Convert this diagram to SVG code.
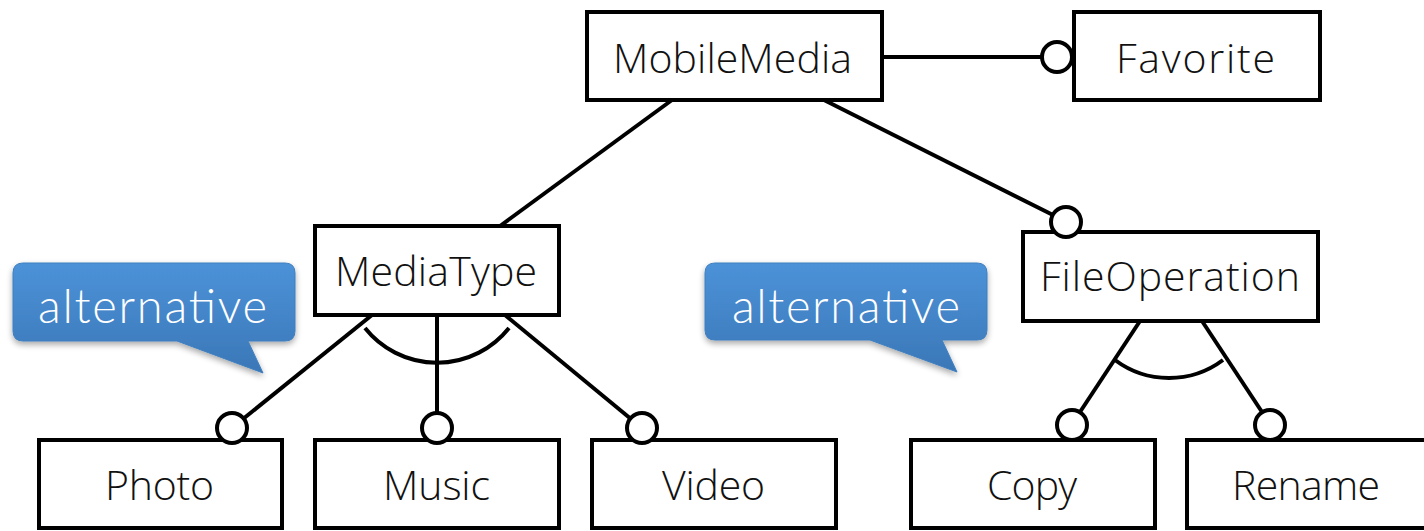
<svg xmlns="http://www.w3.org/2000/svg" width="1424" height="531" viewBox="0 0 1424 531">
  <defs>
    <linearGradient id="calloutFill" x1="0" y1="0" x2="0" y2="1">
      <stop offset="0" stop-color="#4c92d8"/>
      <stop offset="1" stop-color="#3a77b7"/>
    </linearGradient>
    <filter id="softShadow" x="-10%" y="-20%" width="120%" height="150%">
      <feGaussianBlur in="SourceAlpha" stdDeviation="3"/>
      <feOffset dx="0" dy="3" result="blur"/>
      <feComponentTransfer><feFuncA type="linear" slope="0.35"/></feComponentTransfer>
      <feMerge><feMergeNode/><feMergeNode in="SourceGraphic"/></feMerge>
    </filter>
  </defs>
  <style>
    .box { fill: #ffffff; stroke: #000000; stroke-width: 4; }
    .label { font-family: "Open Sans", "Liberation Sans", sans-serif; font-weight: 300; font-size: 41px; fill: #111111; text-anchor: middle; }
    .edge { stroke: #000000; stroke-width: 4; fill: none; }
    .opt { fill: #ffffff; stroke: #000000; stroke-width: 4; }
    .callout { fill: url(#calloutFill); stroke: #3f7fbf; stroke-width: 1; filter: url(#softShadow); }
    .callout-text { font-family: Lato, "Open Sans", "Liberation Sans", sans-serif; font-weight: 300; font-size: 47px; fill: #ffffff; text-anchor: middle; }
  </style>

  <!-- connectors -->
  <g id="connectors">
    <line class="edge" x1="882" y1="57" x2="1042" y2="57"/>
    <line class="edge" x1="672" y1="100" x2="500" y2="226"/>
    <line class="edge" x1="824" y1="100" x2="1053" y2="215"/>
    <!-- MediaType group -->
    <line class="edge" x1="372" y1="315" x2="243" y2="419"/>
    <line class="edge" x1="437" y1="315" x2="437" y2="413"/>
    <line class="edge" x1="505" y1="315" x2="631" y2="419"/>
    <path class="edge" d="M365,328 A92,92 0 0 0 509,328"/>
    <!-- FileOperation group -->
    <line class="edge" x1="1140" y1="321" x2="1080" y2="412"/>
    <line class="edge" x1="1202" y1="321" x2="1262" y2="412"/>
    <path class="edge" d="M1115,360 A90,90 0 0 0 1223,360"/>
  </g>

  <!-- nodes -->
  <g id="node-mobilemedia">
    <rect class="box" x="587" y="12" width="295" height="88"/>
    <text class="label" x="732.5" y="73" textLength="239" lengthAdjust="spacing">MobileMedia</text>
  </g>
  <g id="node-favorite">
    <rect class="box" x="1074" y="12" width="246" height="88"/>
    <text class="label" x="1195.5" y="73" textLength="159" lengthAdjust="spacing">Favorite</text>
  </g>
  <g id="node-mediatype">
    <rect class="box" x="315" y="226" width="244" height="89"/>
    <text class="label" x="436" y="286" textLength="202" lengthAdjust="spacing">MediaType</text>
  </g>
  <g id="node-fileoperation">
    <rect class="box" x="1023" y="232" width="295" height="89"/>
    <text class="label" x="1170" y="291" textLength="260" lengthAdjust="spacing">FileOperation</text>
  </g>
  <g id="node-photo">
    <rect class="box" x="39" y="440" width="243" height="88"/>
    <text class="label" x="159.5" y="500" textLength="109" lengthAdjust="spacing">Photo</text>
  </g>
  <g id="node-music">
    <rect class="box" x="315" y="440" width="244" height="88"/>
    <text class="label" x="436.5" y="500" textLength="107" lengthAdjust="spacing">Music</text>
  </g>
  <g id="node-video">
    <rect class="box" x="592" y="440" width="244" height="88"/>
    <text class="label" x="713.5" y="500" textLength="103" lengthAdjust="spacing">Video</text>
  </g>
  <g id="node-copy">
    <rect class="box" x="911" y="440" width="244" height="88"/>
    <text class="label" x="1032" y="500" textLength="90" lengthAdjust="spacing">Copy</text>
  </g>
  <g id="node-rename">
    <rect class="box" x="1187" y="440" width="260" height="88"/>
    <text class="label" x="1306" y="500" textLength="148" lengthAdjust="spacing">Rename</text>
  </g>

  <!-- optional-feature markers -->
  <g id="optional-markers">
    <circle class="opt" cx="1057" cy="57" r="15"/>
    <circle class="opt" cx="1066" cy="222" r="15"/>
    <circle class="opt" cx="232" cy="428" r="15"/>
    <circle class="opt" cx="437" cy="428" r="15"/>
    <circle class="opt" cx="642" cy="428" r="15"/>
    <circle class="opt" cx="1072" cy="425" r="15"/>
    <circle class="opt" cx="1270" cy="425" r="15"/>
  </g>

  <!-- callouts -->
  <g id="callout-left">
    <path class="callout" d="M23,263 H285 Q295,263 295,273 V331 Q295,341 285,341 H248 L263,373 L177,341 H23 Q13,341 13,331 V273 Q13,263 23,263 Z"/>
    <text class="callout-text" x="152.5" y="323" textLength="229" lengthAdjust="spacing">alternative</text>
  </g>
  <g id="callout-right">
    <path class="callout" d="M715,263 H977 Q987,263 987,273 V330 Q987,340 977,340 H942 L957,372 L870,340 H715 Q705,340 705,330 V273 Q705,263 715,263 Z"/>
    <text class="callout-text" x="846" y="323" textLength="228" lengthAdjust="spacing">alternative</text>
  </g>
</svg>
